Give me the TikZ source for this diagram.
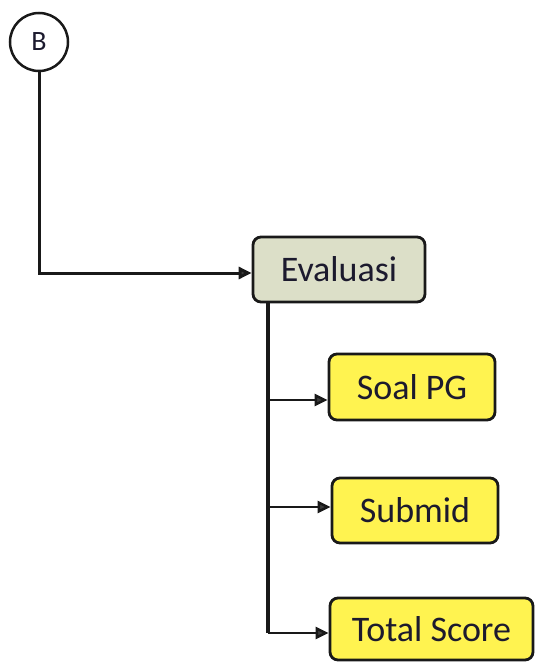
\documentclass[tikz,border=0pt]{standalone}
\usepackage{fontspec}
\setmainfont{Carlito}
\usetikzlibrary{arrows.meta}
\definecolor{evalfill}{RGB}{220,223,200}
\definecolor{yellowfill}{RGB}{255,243,80}
\definecolor{txt}{RGB}{28,26,46}
\definecolor{linec}{RGB}{25,25,25}
\definecolor{tipc}{RGB}{60,60,60}
\tikzset{
  box/.style={draw=linec, line width=2.8pt, rounded corners=8pt, inner sep=0pt, text=txt, font=\fontsize{36}{40}\selectfont},
  evalbox/.style={box, fill=evalfill},
  ybox/.style={box, fill=yellowfill},
  conn/.style={draw=linec, -{Triangle[length=13pt,width=12pt,fill=tipc]}},
}
\begin{document}
\begin{tikzpicture}[x=1pt,y=-1pt]
\useasboundingbox (0,0) rectangle (535,663);
\node[circle, draw=linec, line width=2.5pt, minimum size=58pt, inner sep=0pt, text=txt, font=\fontsize{28}{30}\selectfont] (B) at (39,42) {B};
\node[evalbox, minimum width=172pt, minimum height=65pt] (eval) at (339,269.5) {Evaluasi};
\node[ybox, minimum width=166pt, minimum height=66pt] (soal) at (412,387) {Soal PG};
\node[ybox, minimum width=166pt, minimum height=65pt] (submid) at (415,510.5) {Submid};
\node[ybox, minimum width=203pt, minimum height=62pt] (total) at (431.5,629) {Total Score};
\coordinate (t) at ([xshift=16pt]eval.south west);
\coordinate (ps) at ([yshift=-13pt]soal.west);
\coordinate (pm) at ([yshift=3.5pt]submid.west);
\coordinate (pt) at ([yshift=-4pt]total.west);
\draw[conn, line width=3pt] (B.south) |- ([yshift=-3.5pt]eval.west);
\draw[line width=3.8pt, draw=linec] (t) -- (t |- pt);
\draw[conn, line width=2.5pt] (t |- ps) -- (ps);
\draw[conn, line width=2.5pt] (t |- pm) -- (pm);
\draw[conn, line width=2.5pt] (t |- pt) -- (pt);
\end{tikzpicture}
\end{document}
